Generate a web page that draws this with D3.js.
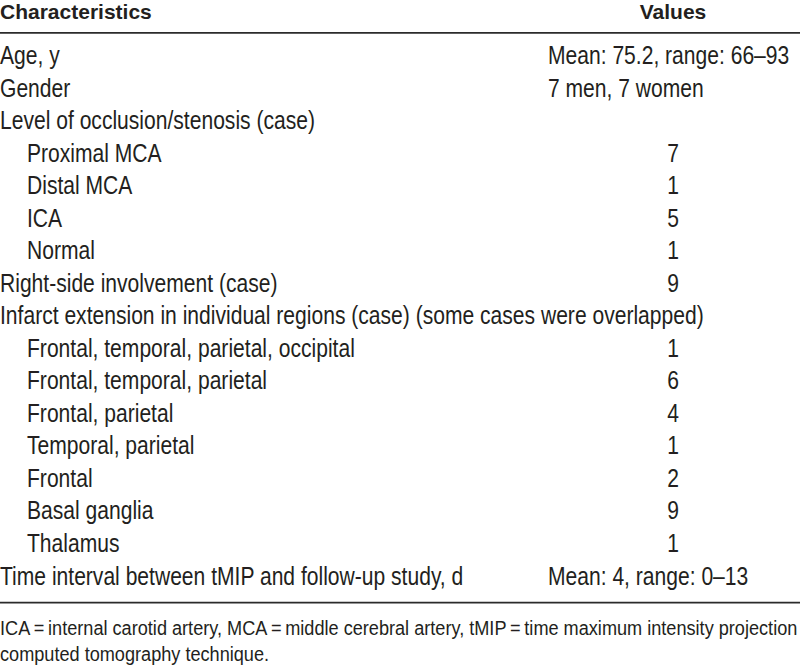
<!DOCTYPE html>
<html>
<head>
<meta charset="utf-8">
<script src="https://cdn.jsdelivr.net/npm/d3@7"></script>
<style>
  html, body { margin: 0; padding: 0; background: #fff; }
  svg { display: block; }
  text { font-family: "Liberation Sans Narrow", "Arial Narrow", "Liberation Sans", sans-serif; fill: #231f20; }
</style>
</head>
<body>
<svg id="chart" width="800" height="671"></svg>
<script>
// ---- data ----
const headers = ["Characteristics", "Values"];
const characteristics = [
  "Age, y",
  "Gender",
  "Level of occlusion/stenosis (case)",
  "Proximal MCA",
  "Distal MCA",
  "ICA",
  "Normal",
  "Right-side involvement (case)",
  "Infarct extension in individual regions (case) (some cases were overlapped)",
  "Frontal, temporal, parietal, occipital",
  "Frontal, temporal, parietal",
  "Frontal, parietal",
  "Temporal, parietal",
  "Frontal",
  "Basal ganglia",
  "Thalamus",
  "Time interval between tMIP and follow-up study, d"
];
const indentLevels = [0, 0, 0, 1, 1, 1, 1, 0, 0, 1, 1, 1, 1, 1, 1, 1, 0];
const values = [
  "Mean: 75.2, range: 66\u201393",
  "7 men, 7 women",
  "",
  "7", "1", "5", "1",
  "9",
  "",
  "1", "6", "4", "1", "2", "9", "1",
  "Mean: 4, range: 0\u201313"
];
const footnotes = [
  "ICA\u2009=\u2009internal carotid artery, MCA\u2009=\u2009middle cerebral artery, tMIP\u2009=\u2009time maximum intensity projection",
  "computed tomography technique."
];

// ---- layout ----
const W = 800;
const svg = d3.select("#chart");
const rows = d3.range(characteristics.length);
const y = d3.scaleLinear().domain([0, rows.length - 1]).range([64, 584.5]);
const indent = d3.scaleLinear().domain([0, 1]).range([0, 27]);
const valueLeft = 548, valueCenter = 673;
const BODY = 26, HEAD = 21, FOOT = 20;

// measure helper to get a horizontal condensing factor
function measure(str, size, weight) {
  const t = svg.append("text").attr("font-size", size).attr("font-weight", weight || "normal").text(str);
  const w = t.node().getComputedTextLength();
  t.remove();
  return w;
}
const sxBody = Math.min(1, 704 / measure(characteristics[8], BODY));
const sxHead = Math.min(1, 154 / measure(headers[0], HEAD, "bold"));
const sxFoot = Math.min(1, 798 / measure(footnotes[0], FOOT));

function place(sel, xf, yf, sx) {
  sel.attr("transform", (d, i) => `translate(${xf(d, i)},${yf(d, i)}) scale(${sx},1)`);
}

// header
const head = svg.selectAll("text.head").data(headers).join("text")
  .attr("class", "head")
  .attr("font-size", HEAD).attr("font-weight", "bold")
  .attr("text-anchor", (d, i) => i === 0 ? "start" : "middle")
  .text(d => d);
place(head, (d, i) => i === 0 ? 0 : valueCenter, () => 18.5, sxHead);

// rules
svg.append("line").attr("x1", 0).attr("x2", W).attr("y1", 32.8).attr("y2", 32.8)
  .attr("stroke", "#2b2b2b").attr("stroke-width", 1.8);
svg.append("line").attr("x1", 0).attr("x2", W).attr("y1", 602.7).attr("y2", 602.7)
  .attr("stroke", "#2b2b2b").attr("stroke-width", 1.8);

// body rows
const g = svg.append("g");
const labels = g.selectAll("text.label").data(rows).join("text")
  .attr("class", "label")
  .attr("font-size", BODY)
  .text(i => characteristics[i]);
place(labels, i => indent(indentLevels[i]), i => y(i), sxBody);

const isNum = i => /^\d+$/.test(values[i]);
const vals = g.selectAll("text.value").data(rows.filter(i => values[i] !== "")).join("text")
  .attr("class", "value")
  .attr("text-anchor", i => isNum(i) ? "middle" : "start")
  .attr("font-size", BODY)
  .text(i => values[i]);
place(vals, i => isNum(i) ? valueCenter : valueLeft, i => y(i), sxBody);

// footnotes
const foot = svg.selectAll("text.foot").data(footnotes).join("text")
  .attr("class", "foot")
  .attr("font-size", FOOT)
  .text(d => d);
place(foot, () => 0, (d, i) => 634.5 + i * 26.5, sxFoot);
</script>
</body>
</html>
